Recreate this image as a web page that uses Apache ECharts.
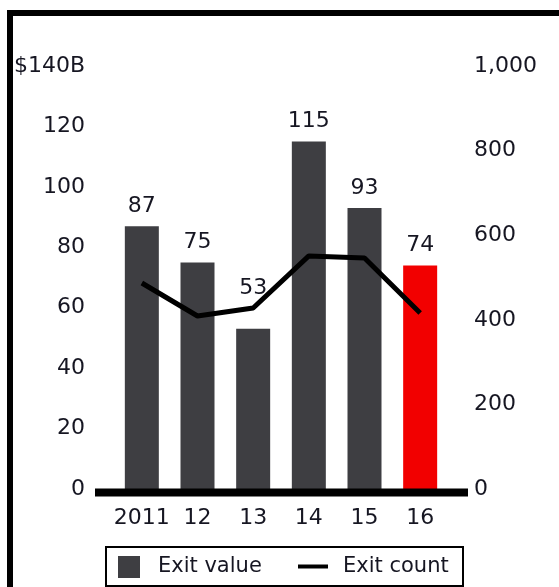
<!DOCTYPE html>
<html>
<head>
<meta charset="utf-8">
<title>Exit value and exit count</title>
<script src="https://cdn.jsdelivr.net/npm/echarts@6/dist/echarts.min.js"></script>
<style>
  html, body { margin: 0; padding: 0; background: #fff; }
  #chart { width: 559px; height: 587px; }
</style>
</head>
<body>
<div id="chart"></div>
<script>
// data
var years = ['2011', '12', '13', '14', '15', '16']
var exitValue = [87, 75, 53, 115, 93, 74]        // $B, bars
var exitCount = [487, 409, 428, 551, 546, 416]   // line, right axis
var valueTicks = [0, 140, 20]    // min, max, step for left axis
var countTicks = [0, 1000, 200]  // min, max, step for right axis
var legendNames = ['Exit value', 'Exit count']

var textColor = '#161622'
var fontName = 'DejaVu Sans'

var chart = echarts.init(document.getElementById('chart'))

// last bar is highlighted red, 2013 label is lifted above the line
var barData = exitValue.map(function (v, i) {
  if (i === exitValue.length - 1) {
    return { value: v, itemStyle: { color: '#f20000' } }
  }
  if (i === 2) {
    return { value: v, label: { distance: 30 } }
  }
  return v
})

var option = {
  animation: false,
  textStyle: { fontFamily: fontName, color: textColor },
  grid: {
    left: 114,
    right: 111,
    top: 66,
    bottom: 98
  },
  xAxis: {
    type: 'category',
    data: years,
    axisLine: { show: false }, // drawn below as a graphic so it can run past the grid
    axisTick: { show: false },
    axisLabel: {
      interval: 0,
      margin: 18,
      fontSize: 22,
      color: textColor,
      fontFamily: fontName
    }
  },
  yAxis: [
    {
      type: 'value',
      min: valueTicks[0],
      max: valueTicks[1],
      interval: valueTicks[2],
      axisLine: { show: false },
      axisTick: { show: false },
      splitLine: { show: false },
      axisLabel: {
        margin: 29,
        fontSize: 22,
        color: textColor,
        fontFamily: fontName,
        formatter: function (v) {
          return v === valueTicks[1] ? '$' + v + 'B' : v
        }
      }
    },
    {
      type: 'value',
      position: 'right',
      min: countTicks[0],
      max: countTicks[1],
      interval: countTicks[2],
      axisLine: { show: false },
      axisTick: { show: false },
      splitLine: { show: false },
      axisLabel: {
        margin: 26,
        fontSize: 22,
        color: textColor,
        fontFamily: fontName,
        formatter: function (v) {
          return v.toLocaleString('en-US')
        }
      }
    }
  ],
  legend: [
    {
      data: [{ name: legendNames[0], icon: 'rect' }],
      left: 118,
      top: 556,
      padding: 0,
      itemWidth: 22,
      itemHeight: 22,
      selectedMode: false,
      textStyle: { fontSize: 21, color: textColor, fontFamily: fontName, padding: [0, 0, 0, 13] }
    },
    {
      // plain thick bar as the line key, no point marker
      data: [{ name: legendNames[1], icon: 'rect' }],
      left: 298,
      top: 556,
      padding: 0,
      itemWidth: 30,
      itemHeight: 4,
      selectedMode: false,
      itemStyle: { color: '#000' },
      textStyle: { fontSize: 21, color: textColor, fontFamily: fontName, padding: [0, 0, 0, 10] }
    }
  ],
  series: [
    {
      name: legendNames[0],
      type: 'bar',
      data: barData,
      barWidth: 34,
      itemStyle: { color: '#3e3e42' },
      label: {
        show: true,
        position: 'top',
        distance: 9,
        fontSize: 22,
        color: textColor,
        fontFamily: fontName
      }
    },
    {
      name: legendNames[1],
      type: 'line',
      yAxisIndex: 1,
      data: exitCount,
      symbol: 'none',
      lineStyle: { color: '#000', width: 5 },
      itemStyle: { color: '#000' },
      z: 5
    }
  ],
  graphic: [
    { // outer frame (only top and left show)
      type: 'rect',
      z: 10,
      shape: { x: 10, y: 13, width: 620, height: 640 },
      style: { fill: 'none', stroke: '#000', lineWidth: 6 }
    },
    { // thick base line
      type: 'line',
      z: 10,
      shape: { x1: 95, y1: 492.5, x2: 468, y2: 492.5 },
      style: { stroke: '#000', lineWidth: 8 }
    },
    { // legend box
      type: 'rect',
      z: 10,
      shape: { x: 106, y: 547, width: 357, height: 39 },
      style: { fill: 'none', stroke: '#000', lineWidth: 2 }
    }
  ]
}

chart.setOption(option)
</script>
</body>
</html>
